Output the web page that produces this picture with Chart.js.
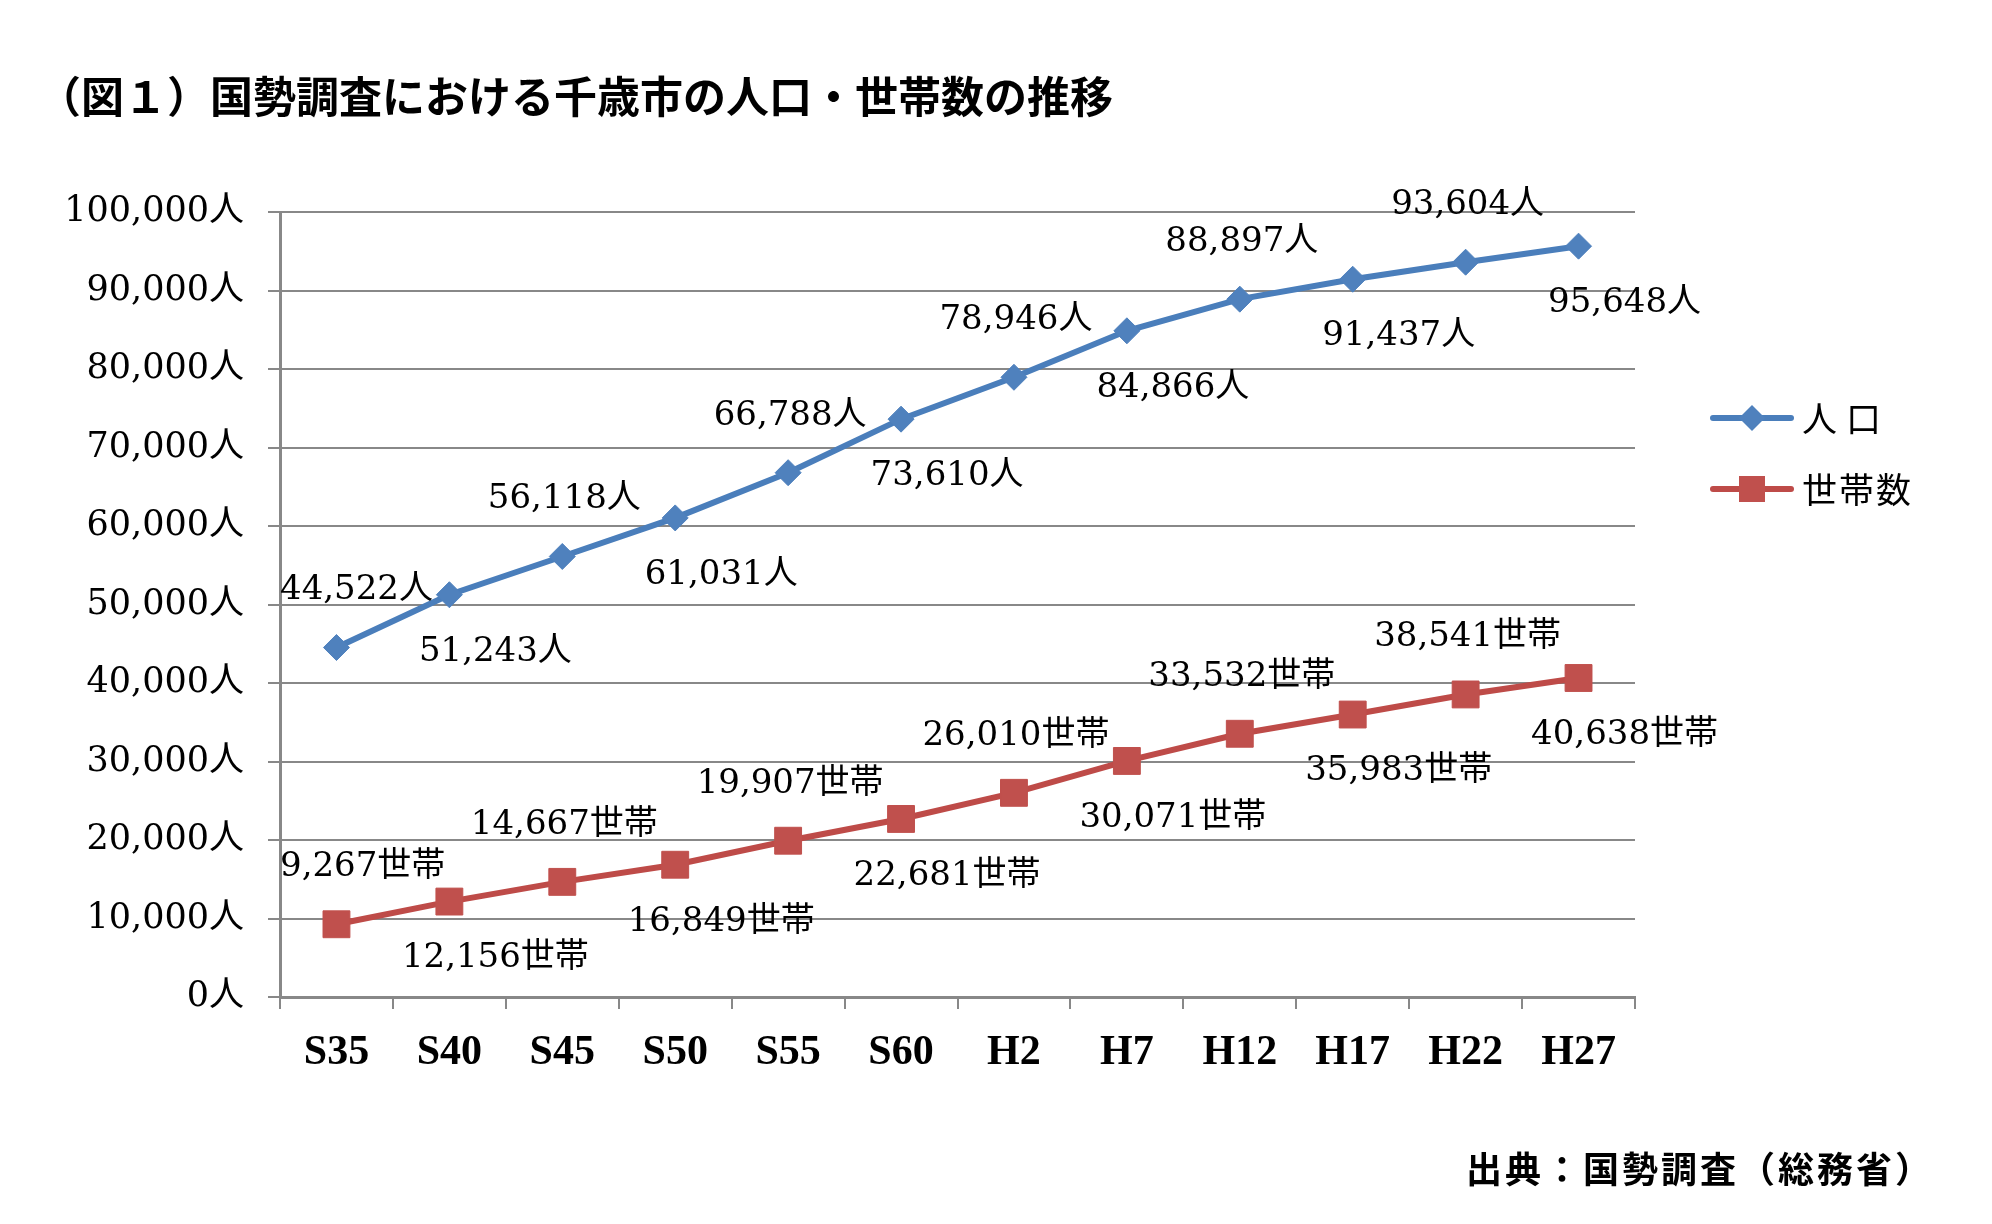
<!DOCTYPE html>
<html>
<head>
<meta charset="utf-8">
<script src="https://cdn.jsdelivr.net/npm/chart.js@4"></script>
<style>
    body { margin: 0; background: #fff; }
    #wrap { position: relative; width: 1992px; height: 1224px; }
    #title {
        position: absolute; left: 38px; top: 63px;
        font: bold 43px "Noto Sans CJK JP", sans-serif; color: #000;
        letter-spacing: 0px; white-space: nowrap;
    }
    #source {
        position: absolute; left: 1466px; top: 1141px;
        font: bold 36px "Noto Sans CJK JP", sans-serif; color: #000;
        letter-spacing: 3px; white-space: nowrap;
    }
</style>
</head>
<body>
<div id="wrap">
    <canvas id="popChart" width="1992" height="1224"></canvas>
    <div id="title">（図１）国勢調査における千歳市の人口・世帯数の推移</div>
    <div id="source">出典：国勢調査（総務省）</div>
</div>
<script>
// census years
var years = ['S35', 'S40', 'S45', 'S50', 'S55', 'S60', 'H2', 'H7', 'H12', 'H17', 'H22', 'H27'];

// 人口
var population = [44522, 51243, 56118, 61031, 66788, 73610, 78946, 84866, 88897, 91437, 93604, 95648];
// 世帯数
var households = [9267, 12156, 14667, 16849, 19907, 22681, 26010, 30071, 33532, 35983, 38541, 40638];

var seriesNames = ['人口', '世帯数'];
var seriesUnits = ['人', '世帯'];

var yMin = 0;
var yMax = 100000;
var yStep = 10000;

var gridGray = '#888888';
var labelFont = '34px "DejaVu Serif", "Noto Sans CJK JP", serif';

//################ data labels (alternating above / below) ################
var valueLabels = {
    id: 'valueLabels',
    afterDatasetsDraw: function(chart) {
        var ctx = chart.ctx;
        var area = chart.chartArea;
        ctx.save();
        ctx.font = labelFont;
        ctx.fillStyle = '#000';
        ctx.textAlign = 'center';
        ctx.textBaseline = 'middle';
        chart.data.datasets.forEach(function(ds, d) {
            var meta = chart.getDatasetMeta(d);
            meta.data.forEach(function(pt, i) {
                var text = ds.data[i].toLocaleString('en-US') + seriesUnits[d];
                var w = ctx.measureText(text).width;
                var x, y;
                if (i % 2 == 0) {
                    x = pt.x + 2;
                    y = pt.y - 57;
                } else {
                    x = pt.x + 46;
                    y = pt.y + 57;
                }
                // keep the first label off the axis
                if (x - w / 2 < area.left) x = area.left + w / 2;
                ctx.fillText(text, x, y);
            });
        });
        ctx.restore();
    }
};

//################ legend at the right ################
var sideLegend = {
    id: 'sideLegend',
    afterDraw: function(chart) {
        var ctx = chart.ctx;
        var area = chart.chartArea;
        var x0 = area.right + 78;
        var x1 = area.right + 156;
        ctx.save();
        chart.data.datasets.forEach(function(ds, d) {
            var y = area.top + 206 + d * 71;
            var mx = (x0 + x1) / 2;
            ctx.strokeStyle = ds.borderColor;
            ctx.lineWidth = 6;
            ctx.lineCap = 'round';
            ctx.beginPath();
            ctx.moveTo(x0, y);
            ctx.lineTo(x1, y);
            ctx.stroke();

            ctx.fillStyle = ds.pointBackgroundColor;
            ctx.beginPath();
            if (ds.pointStyle == 'rectRot') {
                var r = 13;
                ctx.moveTo(mx, y - r);
                ctx.lineTo(mx + r, y);
                ctx.lineTo(mx, y + r);
                ctx.lineTo(mx - r, y);
                ctx.closePath();
            } else {
                ctx.rect(mx - 13, y - 13, 26, 26);
            }
            ctx.fill();

            ctx.fillStyle = '#000';
            ctx.font = '35px "Noto Sans CJK JP", serif';
            ctx.textAlign = 'left';
            ctx.textBaseline = 'middle';
            ctx.letterSpacing = d == 0 ? '9px' : '2px';
            ctx.fillText(ds.label, x1 + 11, y + 1);
        });
        ctx.restore();
    }
};

var ctx = document.getElementById('popChart').getContext('2d');

var popChart = new Chart(ctx, {
    type: 'line',
    data: {
        labels: years,
        datasets: [
            {
                label: seriesNames[0],
                data: population,
                borderColor: '#4a7ebb',
                backgroundColor: '#4f81bd',
                pointBackgroundColor: '#4f81bd',
                pointBorderColor: '#4f81bd',
                borderWidth: 6,
                pointStyle: 'rectRot',
                pointRadius: 13,
                pointBorderWidth: 1,
                tension: 0
            },
            {
                label: seriesNames[1],
                data: households,
                borderColor: '#be4b48',
                backgroundColor: '#c0504d',
                pointBackgroundColor: '#c0504d',
                pointBorderColor: '#c0504d',
                borderWidth: 6,
                pointStyle: 'rect',
                pointRadius: 19,
                pointBorderWidth: 1,
                tension: 0
            }
        ]
    },
    options: {
        responsive: false,
        animation: false,
        layout: {
            padding: { top: 212, left: 0, right: 357, bottom: 0 }
        },
        scales: {
            x: {
                offset: true,
                grid: {
                    display: true,
                    drawOnChartArea: false,
                    offset: true,
                    color: gridGray,
                    lineWidth: 2,
                    tickLength: 12
                },
                border: { color: gridGray, width: 3 },
                ticks: {
                    color: '#000',
                    padding: 19,
                    maxRotation: 0,
                    autoSkip: false,
                    font: { family: '"Liberation Serif", serif', size: 42, weight: 'bold' }
                },
                afterFit: function(scale) { scale.height = 227; }
            },
            y: {
                min: yMin,
                max: yMax,
                grid: {
                    color: gridGray,
                    lineWidth: 2,
                    tickLength: 12
                },
                border: { color: gridGray, width: 3 },
                ticks: {
                    stepSize: yStep,
                    color: '#000',
                    padding: 24,
                    font: { family: '"DejaVu Serif", "Noto Sans CJK JP", serif', size: 35 },
                    callback: function(v) { return v.toLocaleString('en-US') + '人'; }
                },
                afterFit: function(scale) { scale.width = 280; }
            }
        },
        plugins: {
            legend: { display: false },
            title: { display: false },
            tooltip: { enabled: false }
        }
    },
    plugins: [valueLabels, sideLegend]
});
</script>
</body>
</html>
